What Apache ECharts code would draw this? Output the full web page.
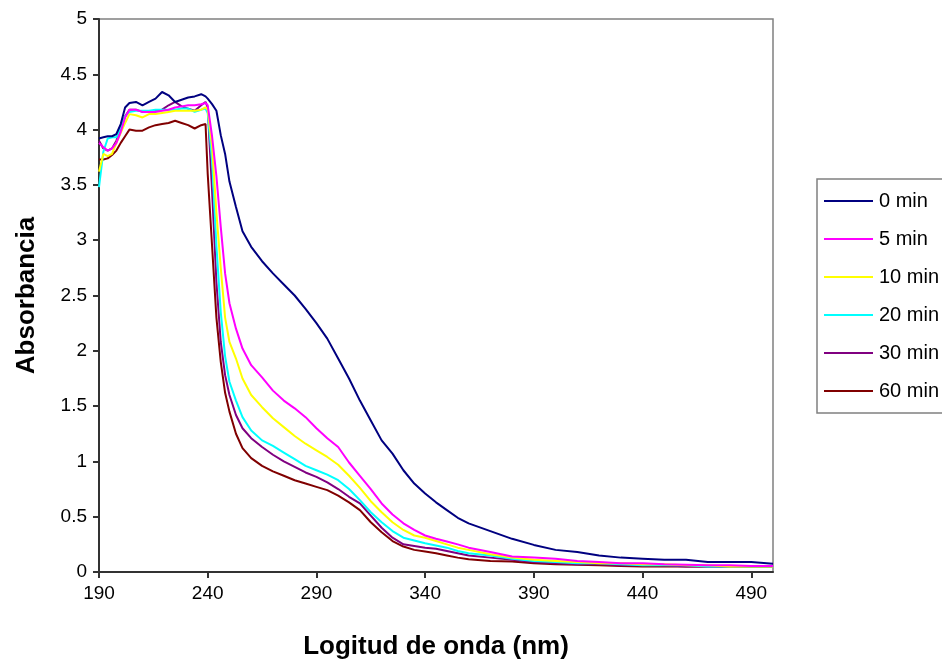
<!DOCTYPE html>
<html>
<head>
<meta charset="utf-8">
<script src="https://cdn.jsdelivr.net/npm/echarts@6/dist/echarts.min.js"></script>
<style>
html,body{margin:0;padding:0;background:#fff;}
#chart{width:942px;height:661px;}
</style>
</head>
<body>
<div id="chart"></div>
<script>
// Wavelengths (nm)
const wavelengths = [190,192,194,196,198,200,202,204,207,210,213,216,219,222,225,228,231,234,237,239,240,242,244,246,248,250,253,256,260,265,270,275,280,285,290,295,300,305,310,315,320,325,330,335,340,345,350,355,360,370,380,390,400,410,420,430,440,450,460,470,480,490,500];

const seriesNames = ['0 min','5 min','10 min','20 min','30 min','60 min'];

const abs0 = [3.92,3.93,3.94,3.94,3.96,4.05,4.20,4.24,4.25,4.22,4.25,4.28,4.34,4.31,4.25,4.27,4.29,4.30,4.32,4.30,4.28,4.23,4.17,3.95,3.78,3.53,3.30,3.08,2.94,2.81,2.70,2.60,2.50,2.38,2.25,2.11,1.93,1.75,1.55,1.37,1.19,1.07,0.92,0.80,0.71,0.63,0.56,0.49,0.44,0.37,0.30,0.245,0.20,0.18,0.15,0.13,0.12,0.11,0.11,0.09,0.09,0.09,0.075];
const abs5 = [3.88,3.84,3.81,3.83,3.88,3.98,4.11,4.18,4.18,4.16,4.16,4.16,4.17,4.18,4.20,4.21,4.22,4.22,4.23,4.24,4.22,3.94,3.58,3.12,2.70,2.43,2.20,2.02,1.87,1.76,1.64,1.55,1.48,1.40,1.30,1.21,1.13,0.99,0.87,0.75,0.62,0.52,0.44,0.38,0.33,0.30,0.275,0.25,0.22,0.18,0.14,0.13,0.12,0.10,0.09,0.08,0.08,0.07,0.065,0.06,0.06,0.055,0.055];
const abs10 = [3.62,3.78,3.76,3.78,3.88,3.97,4.06,4.14,4.13,4.11,4.14,4.14,4.15,4.16,4.17,4.17,4.17,4.17,4.18,4.20,4.18,3.85,3.25,2.75,2.30,2.08,1.93,1.75,1.60,1.49,1.39,1.31,1.23,1.16,1.10,1.04,0.97,0.87,0.76,0.64,0.54,0.45,0.38,0.33,0.31,0.28,0.25,0.22,0.20,0.16,0.13,0.11,0.10,0.09,0.08,0.08,0.07,0.07,0.06,0.06,0.05,0.05,0.05];
const abs20 = [3.48,3.80,3.92,3.93,3.93,4.02,4.12,4.16,4.17,4.17,4.17,4.18,4.18,4.18,4.18,4.19,4.19,4.16,4.18,4.19,4.15,3.72,2.95,2.35,1.95,1.72,1.55,1.40,1.28,1.19,1.14,1.08,1.02,0.96,0.92,0.88,0.83,0.75,0.65,0.54,0.45,0.37,0.31,0.285,0.26,0.24,0.22,0.19,0.17,0.15,0.12,0.10,0.09,0.08,0.08,0.07,0.06,0.06,0.06,0.05,0.05,0.05,0.05];
const abs30 = [3.90,3.83,3.81,3.83,3.90,4.00,4.12,4.18,4.18,4.16,4.16,4.17,4.18,4.22,4.25,4.21,4.19,4.17,4.22,4.25,4.20,3.45,2.62,2.08,1.78,1.60,1.42,1.30,1.21,1.13,1.06,1.00,0.95,0.90,0.86,0.81,0.75,0.68,0.62,0.51,0.40,0.31,0.25,0.235,0.22,0.21,0.19,0.17,0.15,0.13,0.11,0.09,0.08,0.07,0.07,0.06,0.06,0.06,0.05,0.05,0.05,0.05,0.05];
const abs60 = [3.73,3.73,3.74,3.77,3.81,3.88,3.94,4.00,3.99,3.99,4.02,4.04,4.05,4.06,4.08,4.06,4.04,4.01,4.04,4.05,3.60,2.95,2.30,1.90,1.62,1.45,1.25,1.12,1.03,0.96,0.91,0.87,0.83,0.80,0.77,0.74,0.69,0.63,0.56,0.45,0.36,0.28,0.23,0.20,0.185,0.17,0.15,0.13,0.115,0.10,0.095,0.08,0.07,0.065,0.06,0.055,0.05,0.05,0.05,0.05,0.05,0.05,0.05];

const xTicks = [190,240,290,340,390,440,490];
const seriesColors = ['#000080','#FF00FF','#FFFF00','#00FFFF','#800080','#800000'];

const allValues = [abs0, abs5, abs10, abs20, abs30, abs60];

const chart = echarts.init(document.getElementById('chart'), null, {renderer:'canvas'});
const font = 'Liberation Sans, Arial, sans-serif';

const series = allValues.map((vals, i) => ({
  name: seriesNames[i],
  type: 'line',
  symbol: 'none',
  data: wavelengths.map((w, j) => [w, vals[j]]),
  lineStyle: {color: seriesColors[i], width: 2},
  itemStyle: {color: seriesColors[i]},
  z: 10 - i
}));

chart.setOption({
  animation: false,
  backgroundColor: '#fff',
  grid: {
    left: 99, top: 19, right: 169, bottom: 89,
    outerBoundsMode: 'none',
    containLabel: false,
    show: true, borderColor: '#808080', borderWidth: 1.5, backgroundColor: 'transparent'
  },
  legend: {
    orient: 'vertical',
    left: 817, top: 179,
    padding: [12, 80, 12, 7],
    itemWidth: 49, itemHeight: 2, itemGap: 18,
    icon: 'rect',
    borderColor: '#808080', borderWidth: 1.5,
    backgroundColor: '#fff',
    textStyle: {fontFamily: font, fontSize: 20, color: '#000', padding: [0,0,0,1]},
    data: seriesNames
  },
  xAxis: {
    type: 'value',
    min: 190, max: 500,
    name: 'Logitud de onda (nm)',
    nameLocation: 'middle',
    nameGap: 62,
    nameTextStyle: {fontFamily: font, fontSize: 26, fontWeight: 'bold', color: '#000'},
    axisLine: {show: true, onZero: false, lineStyle: {color: '#333', width: 2}},
    axisTick: {show: true, length: 6, customValues: xTicks, lineStyle: {color: '#333', width: 2}},
    axisLabel: {customValues: xTicks, fontFamily: font, fontSize: 19, color: '#000', margin: 12},
    splitLine: {show: false}
  },
  yAxis: {
    type: 'value',
    min: 0, max: 5, interval: 0.5,
    name: 'Absorbancia',
    nameLocation: 'middle',
    nameGap: 59,
    nameTextStyle: {fontFamily: font, fontSize: 26, fontWeight: 'bold', color: '#000'},
    axisLine: {show: true, lineStyle: {color: '#333', width: 2}},
    axisTick: {show: true, length: 6, lineStyle: {color: '#333', width: 2}},
    axisLabel: {fontFamily: font, fontSize: 19, color: '#000', margin: 12},
    splitLine: {show: false}
  },
  series: series
});
</script>
</body>
</html>
